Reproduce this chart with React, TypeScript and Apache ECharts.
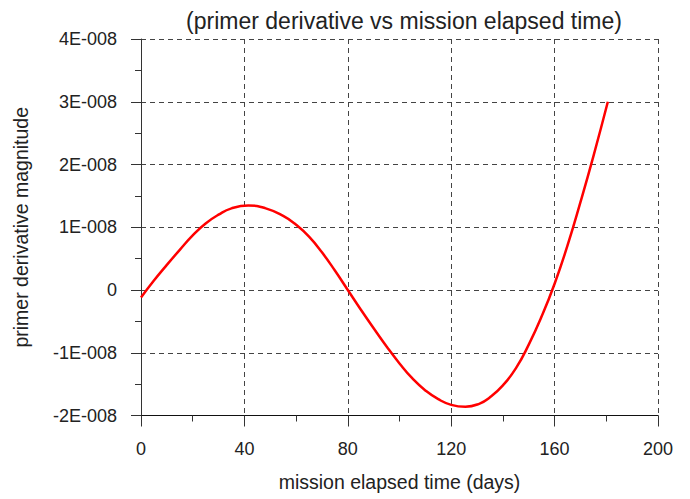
import React, { useEffect, useRef } from "react";
import * as echarts from "echarts";

// mission elapsed time (days)
const days = [0, 5, 10, 15, 20, 25, 30, 35, 41.5, 48, 55, 60, 65, 70, 75, 80, 85, 90, 95, 100, 105, 110, 115, 120, 125.5, 131, 135, 140, 145, 150, 155, 160, 165, 170, 175, 180.6];
// primer derivative magnitude, in units of 1E-008
const primerDerivE8 = [-0.12, 0.15, 0.4, 0.64, 0.87, 1.06, 1.2, 1.3, 1.345, 1.305, 1.18, 1.04, 0.85, 0.6, 0.31, 0.0, -0.31, -0.61, -0.9, -1.17, -1.41, -1.6, -1.74, -1.83, -1.86, -1.81, -1.71, -1.52, -1.25, -0.87, -0.42, 0.1, 0.71, 1.4, 2.13, 3.0];
const xTicks = [0, 40, 80, 120, 160, 200];
const yTicks = [-2, -1, 0, 1, 2, 3, 4];

const titleText = "(primer derivative vs mission elapsed time)";
const xName = "mission elapsed time (days)";
const yName = "primer derivative magnitude";

const FONT = "'Liberation Sans', Arial, sans-serif";

export default function App() {
  const ref = useRef<HTMLDivElement>(null);
  useEffect(() => {
    if (!ref.current) return;
    const chart = echarts.init(ref.current, null, { renderer: "svg" });
    const data = days.map((d, i) => [d, primerDerivE8[i]]);
    const gridLine = { show: true, lineStyle: { color: "#444", type: [5, 4] as any, width: 1 } };
    chart.setOption({
      animation: false,
      backgroundColor: "#fff",
      title: {
        text: titleText,
        left: 399,
        textAlign: "center",
        top: 4,
        textStyle: { fontFamily: FONT, fontSize: 23, fontWeight: "normal", color: "#222" },
      },
      grid: { left: 141, right: 32, top: 39, bottom: 83.5, containLabel: false },
      xAxis: {
        type: "value",
        min: xTicks[0],
        max: xTicks[xTicks.length - 1],
        interval: 40,
        name: xName,
        nameLocation: "middle",
        nameGap: 56,
        nameTextStyle: { fontFamily: FONT, fontSize: 19.5, color: "#222" },
        axisLine: { show: true, onZero: false, lineStyle: { color: "#111", width: 1 } },
        axisTick: { show: true, length: 11, lineStyle: { color: "#333" } },
        minorTick: { show: true, splitNumber: 2, length: 6, lineStyle: { color: "#333" } },
        axisLabel: { fontFamily: FONT, fontSize: 18, color: "#222", margin: 24 },
        splitLine: gridLine,
      },
      yAxis: {
        type: "value",
        min: yTicks[0],
        max: yTicks[yTicks.length - 1],
        interval: 1,
        name: yName,
        nameLocation: "middle",
        nameGap: 110,
        nameTextStyle: { fontFamily: FONT, fontSize: 19.5, color: "#222" },
        axisLine: { show: true, onZero: false, lineStyle: { color: "#333", width: 1 } },
        axisTick: { show: true, length: 10, lineStyle: { color: "#333" } },
        minorTick: { show: true, splitNumber: 2, length: 6, lineStyle: { color: "#333" } },
        axisLabel: {
          fontFamily: FONT,
          fontSize: 18,
          color: "#222",
          margin: 24,
          formatter: (v: number) => (v === 0 ? "0" : `${v}E-008`),
        },
        splitLine: gridLine,
      },
      series: [
        {
          type: "line",
          data,
          smooth: true,
          showSymbol: false,
          lineStyle: { color: "#ff0000", width: 2.5 },
        },
      ],
    });
    return () => chart.dispose();
  }, []);
  return <div ref={ref} style={{ width: 690, height: 499, position: "absolute", left: 0, top: 0 }} />;
}
